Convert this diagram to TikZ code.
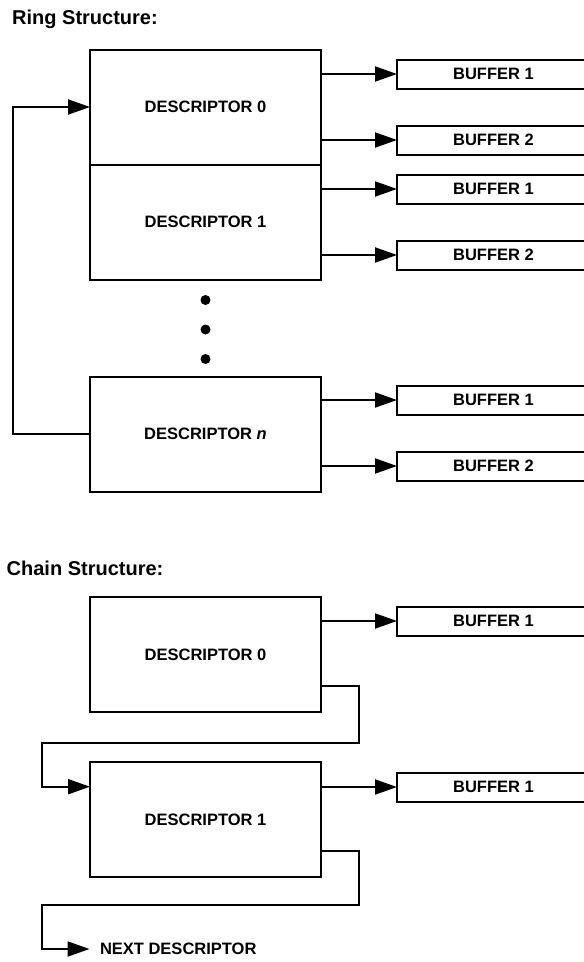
\documentclass[tikz,border=0pt]{standalone}
\usepackage{fontspec}
\setmainfont{Liberation Sans}
\usetikzlibrary{arrows.meta,positioning,calc}

\begin{document}
\begin{tikzpicture}[x=1pt, y=-1pt, line width=2pt,
    desc/.style={draw, minimum width=231pt, minimum height=115pt, inner sep=0pt, outer sep=0pt, font=\fontsize{16.5}{18}\selectfont\bfseries},
    buf/.style={draw, minimum width=193pt, minimum height=29pt, inner sep=0pt, outer sep=0pt, font=\fontsize{16.5}{18}\selectfont\bfseries},
    head/.style={anchor=base west, inner sep=0pt, font=\fontsize{20}{24}\selectfont\bfseries},
    arr/.style={-{Triangle[length=22pt,width=15pt]}},
    dot/.style={circle, fill, inner sep=0pt, minimum size=10pt}]
  \useasboundingbox (0,0) rectangle (584,962);
  % ring
  \node [head] (ring) at (11.2,24) {Ring Structure:};
  \node [desc] (r0) at (205.5,107) {DESCRIPTOR 0};
  \node [desc, below=0pt of r0] (r1) {DESCRIPTOR 1};
  \node [dot] (d1) at (205.5,300) {};
  \node [dot] (d2) at (205.5,329.5) {};
  \node [dot] (d3) at (205.5,359) {};
  \node [desc] (rn) at (205.5,434) {DESCRIPTOR {\itshape n}};
  \node [buf] (r0b1) at (493.5,74) {BUFFER 1};
  \node [buf] (r0b2) at (493.5,140) {BUFFER 2};
  \node [buf] (r1b1) at (493.5,189) {BUFFER 1};
  \node [buf] (r1b2) at (493.5,255) {BUFFER 2};
  \node [buf] (rnb1) at (493.5,400) {BUFFER 1};
  \node [buf] (rnb2) at (493.5,466) {BUFFER 2};
  \draw [arr] (r0.east |- r0b1) -- (r0b1);
  \draw [arr] (r0.east |- r0b2) -- (r0b2);
  \draw [arr] (r1.east |- r1b1) -- (r1b1);
  \draw [arr] (r1.east |- r1b2) -- (r1b2);
  \draw [arr] (rn.east |- rnb1) -- (rnb1);
  \draw [arr] (rn.east |- rnb2) -- (rnb2);
  \coordinate (lp) at (13.3,270);
  \draw [arr] (rn.west) -| (lp) |- (r0.west);
  % chain
  \node [head] (chain) at (5.7,575) {Chain Structure:};
  \node [desc] (c0) at (205.5,654.5) {DESCRIPTOR 0};
  \node [desc] (c1) at (205.5,819.7) {DESCRIPTOR 1};
  \node [buf] (c0b1) at (493.5,621) {BUFFER 1};
  \node [buf] (c1b1) at (493.5,787) {BUFFER 1};
  \node [anchor=west, inner xsep=9.5pt, inner ysep=0pt, font=\fontsize{16.5}{18}\selectfont\bfseries] (nx) at (89.5,949) {NEXT DESCRIPTOR};
  \draw [arr] (c0.east |- c0b1) -- (c0b1);
  \draw [arr] (c1.east |- c1b1) -- (c1b1);
  \coordinate (c0out) at ($(c0.north east)+(0,89)$);
  \coordinate (c1in) at ($(c1.north west)+(0,24.5)$);
  \coordinate (c1out) at ($(c1.north east)+(0,89)$);
  \coordinate (k0) at (359,743);
  \coordinate (k1) at (41.7,743);
  \coordinate (k2) at (359,905);
  \coordinate (k3) at (41.7,905);
  \draw [arr] (c0out) -| (k0) -- (k1) |- (c1in);
  \draw [arr] (c1out) -| (k2) -- (k3) |- (nx);
\end{tikzpicture}
\end{document}
